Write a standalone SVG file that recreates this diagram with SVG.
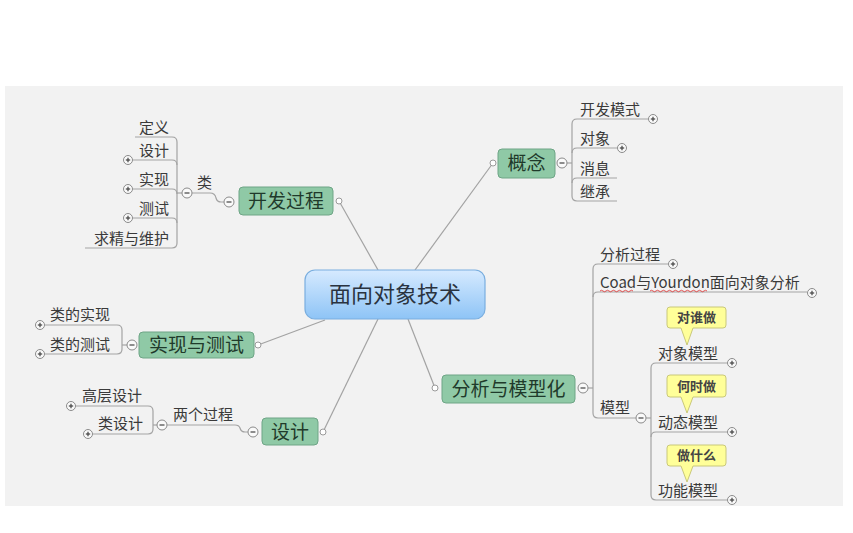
<svg xmlns="http://www.w3.org/2000/svg" width="853" height="533" viewBox="0 0 853 533">
<defs>
<linearGradient id="blue" x1="0" y1="0" x2="0" y2="1">
<stop offset="0" stop-color="#d6eaff"/>
<stop offset="1" stop-color="#8ec4f6"/>
</linearGradient>
<style>
.bg{fill:#f2f2f2}
.ln{fill:none;stroke:#a3a3a3;stroke-width:1.2}
.node{fill:#8fc9a6;stroke:#6ea586;stroke-width:1}
.nt{font-family:"Noto Sans CJK SC","Noto Sans",sans-serif;font-size:19px;fill:#1f3a2b;text-anchor:middle}
.st{font-family:"Noto Sans CJK SC","Noto Sans",sans-serif;font-size:15px;fill:#3a3a3a}
.ct{font-family:"Noto Sans CJK SC","Noto Sans",sans-serif;font-size:13px;font-weight:bold;fill:#444;text-anchor:middle}
.call{fill:#ffff99;stroke:#c9c87a;stroke-width:1}
.dot{fill:#fff;stroke:#9a9a9a;stroke-width:1}
.tog{fill:#fafafa;stroke:#8a8a8a;stroke-width:1}
.sym{stroke:#444;stroke-width:1.2}
.wave{fill:none;stroke:#e04040;stroke-width:0.9}
</style>
<g id="plus"><circle class="tog" r="4.5"/><line class="sym" x1="-2.2" y1="0" x2="2.2" y2="0"/><line class="sym" x1="0" y1="-2.2" x2="0" y2="2.2"/></g>
<g id="minus"><circle class="tog" r="5"/><line class="sym" x1="-2.5" y1="0" x2="2.5" y2="0"/></g>
</defs>
<rect x="0" y="0" width="853" height="533" fill="#ffffff"/>
<rect class="bg" x="5" y="86" width="838" height="420"/>

<g id="connectors">
<line class="ln" x1="339" y1="201" x2="378" y2="270"/>
<line class="ln" x1="493" y1="163" x2="415" y2="270"/>
<line class="ln" x1="258" y1="345" x2="325" y2="320"/>
<line class="ln" x1="323" y1="432" x2="378" y2="319"/>
<line class="ln" x1="435" y1="388" x2="408" y2="319"/>
<!-- 开发过程 -> 类 -->
<path class="ln" d="M224,202 L221,202 Q217,202 216,198 Q215,193 210,193 L192,193"/>
<!-- 类 bracket -->
<path class="ln" d="M182,193 L177,193"/>
<path class="ln" d="M135,137 L172,137 Q177,137 177,142 L177,243 Q177,248 172,248 L85,248"/>
<path class="ln" d="M133,160 L172,160 Q177,160 177,165"/>
<path class="ln" d="M133,189 L172,189 Q177,189 177,194"/>
<path class="ln" d="M133,218 L172,218 Q177,218 177,223"/>
<!-- 概念 bracket -->
<path class="ln" d="M567,163 L572,163"/>
<path class="ln" d="M648,119 L577,119 Q572,119 572,124 L572,196 Q572,201 577,201 L617,201"/>
<path class="ln" d="M617,148 L577,148 Q572,148 572,153"/>
<path class="ln" d="M617,178 L577,178 Q572,178 572,183"/>
<!-- 分析与模型化 bracket -->
<path class="ln" d="M588,388 L593,388"/>
<path class="ln" d="M668,264 L598,264 Q593,264 593,269 L593,413 Q593,418 598,418 L636,418"/>
<path class="ln" d="M807,292 L598,292 Q593,292 593,297"/>
<!-- 模型 bracket -->
<path class="ln" d="M646,418 L651,418"/>
<path class="ln" d="M727,363 L656,363 Q651,363 651,368 L651,495 Q651,500 656,500 L727,500"/>
<path class="ln" d="M727,432 L656,432 Q651,432 651,437"/>
<!-- 实现与测试 bracket -->
<path class="ln" d="M127,345 L122,345"/>
<path class="ln" d="M45,325 L117,325 Q122,325 122,330 L122,349 Q122,354 117,354 L45,354"/>
<!-- 设计 -> 两个过程 -->
<path class="ln" d="M248,432 L245,432 Q241,432 240,428 Q239,425 235,425 L167,425"/>
<!-- 两个过程 bracket -->
<path class="ln" d="M157,425 L153,425"/>
<path class="ln" d="M76,406 L148,406 Q153,406 153,411 L153,429 Q153,434 148,434 L93,434"/>
<!-- endpoint dots -->
<circle class="dot" cx="339" cy="201" r="3"/>
<circle class="dot" cx="493" cy="163" r="3"/>
<circle class="dot" cx="258" cy="345" r="3"/>
<circle class="dot" cx="323" cy="432" r="3"/>
<circle class="dot" cx="435" cy="388" r="3"/>
<!-- toggles -->
<use href="#minus" x="229" y="202"/>
<use href="#minus" x="187" y="193"/>
<use href="#minus" x="562" y="163"/>
<use href="#minus" x="583" y="388"/>
<use href="#minus" x="641" y="418"/>
<use href="#minus" x="132" y="345"/>
<use href="#minus" x="253" y="432"/>
<use href="#minus" x="162" y="425"/>
<use href="#plus" x="128" y="160"/>
<use href="#plus" x="128" y="189"/>
<use href="#plus" x="128" y="218"/>
<use href="#plus" x="653" y="119"/>
<use href="#plus" x="622" y="148"/>
<use href="#plus" x="673" y="264"/>
<use href="#plus" x="812" y="293"/>
<use href="#plus" x="732" y="363"/>
<use href="#plus" x="732" y="432"/>
<use href="#plus" x="732" y="500"/>
<use href="#plus" x="40" y="325"/>
<use href="#plus" x="40" y="354"/>
<use href="#plus" x="71" y="406"/>
<use href="#plus" x="88" y="434"/>
</g>

<g id="center">
<rect x="305" y="270" width="180" height="49" rx="10" fill="url(#blue)" stroke="#7aaedf" stroke-width="1.2"/>
<text x="395" y="302" class="nt" style="font-size:22px;fill:#2a3340">面向对象技术</text>
</g>

<g id="n-kaifa">
<rect class="node" x="239" y="187" width="94" height="28" rx="4"/>
<text x="286" y="208" class="nt">开发过程</text>
</g>
<g id="n-lei"><text x="197" y="188" class="st">类</text></g>
<g id="n-dingyi"><text x="169" y="133" class="st" text-anchor="end">定义</text></g>
<g id="n-sheji1"><text x="169" y="156" class="st" text-anchor="end">设计</text></g>
<g id="n-shixian1"><text x="169" y="185" class="st" text-anchor="end">实现</text></g>
<g id="n-ceshi1"><text x="169" y="214" class="st" text-anchor="end">测试</text></g>
<g id="n-qiujing"><text x="169" y="244" class="st" text-anchor="end">求精与维护</text></g>

<g id="n-gainian">
<rect class="node" x="498" y="149" width="57" height="29" rx="4"/>
<text x="526.5" y="170" class="nt">概念</text>
</g>
<g id="n-kaifamoshi"><text x="580" y="115" class="st">开发模式</text></g>
<g id="n-duixiang"><text x="580" y="144" class="st">对象</text></g>
<g id="n-xiaoxi"><text x="580" y="174" class="st">消息</text></g>
<g id="n-jicheng"><text x="580" y="197" class="st">继承</text></g>

<g id="n-fenxi">
<rect class="node" x="442" y="375" width="133" height="28" rx="4"/>
<text x="508.5" y="396" class="nt">分析与模型化</text>
</g>
<g id="n-fenxiguocheng"><text x="600" y="260" class="st">分析过程</text></g>
<g id="n-coad">
<text x="600" y="288" class="st">Coad与Yourdon面向对象分析</text>
<path class="wave" d="M600,291 q1.5,-1.5 3,0 t3,0 t3,0 t3,0 t3,0 t3,0 t3,0 t3,0 t3,0 t3,0 t3,0"/>
<path class="wave" d="M650,291 q1.5,-1.5 3,0 t3,0 t3,0 t3,0 t3,0 t3,0 t3,0 t3,0 t3,0 t3,0 t3,0 t3,0 t3,0 t3,0 t3,0 t3,0 t3,0 t3,0 t3,0"/>
</g>
<g id="n-moxing"><text x="600" y="413" class="st">模型</text></g>
<g id="n-duixiangmoxing">
<path class="call" d="M670,307 H723 Q726,307 726,310 V325 Q726,328 723,328 H693 L687,345 L681,328 H670 Q667,328 667,325 V310 Q667,307 670,307 Z"/>
<text x="696.5" y="322" class="ct">对谁做</text>
<text x="658" y="359" class="st">对象模型</text>
</g>
<g id="n-dongtaimoxing">
<path class="call" d="M670,375 H723 Q726,375 726,378 V394 Q726,397 723,397 H693 L687,413 L681,397 H670 Q667,397 667,394 V378 Q667,375 670,375 Z"/>
<text x="696.5" y="391" class="ct">何时做</text>
<text x="658" y="428" class="st">动态模型</text>
</g>
<g id="n-gongnengmoxing">
<path class="call" d="M670,445 H723 Q726,445 726,448 V463 Q726,466 723,466 H693 L687,482 L681,466 H670 Q667,466 667,463 V448 Q667,445 670,445 Z"/>
<text x="696.5" y="460" class="ct">做什么</text>
<text x="658" y="496" class="st">功能模型</text>
</g>

<g id="n-shixianyuceshi">
<rect class="node" x="139" y="332" width="115" height="26" rx="4"/>
<text x="196.5" y="352" class="nt">实现与测试</text>
</g>
<g id="n-leideshixian"><text x="50" y="320" class="st">类的实现</text></g>
<g id="n-leideceshi"><text x="50" y="350" class="st">类的测试</text></g>

<g id="n-sheji">
<rect class="node" x="262" y="418" width="56" height="27" rx="4"/>
<text x="290" y="439" class="nt">设计</text>
</g>
<g id="n-lianggeguocheng"><text x="173" y="420" class="st">两个过程</text></g>
<g id="n-gaocengsheji"><text x="82" y="401" class="st">高层设计</text></g>
<g id="n-leisheji"><text x="98" y="429" class="st">类设计</text></g>
</svg>
